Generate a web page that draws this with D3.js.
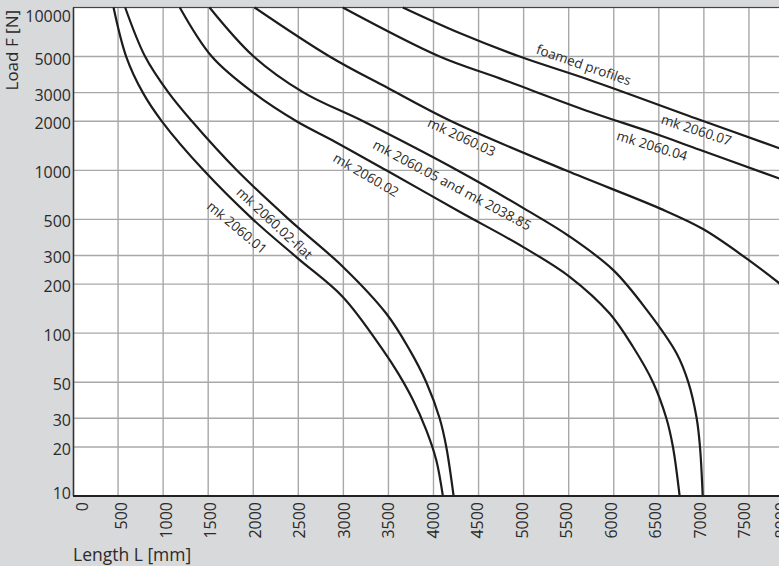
<!DOCTYPE html>
<html><head><meta charset="utf-8">
<script src="https://cdn.jsdelivr.net/npm/d3@7"></script>
<style>
html,body{margin:0;padding:0;background:#d8d9db;}
svg{display:block;}
text{font-family:"Open Sans",sans-serif;fill:#2a2a2a;}
</style></head><body>
<svg id="chart" width="779" height="566"></svg>
<script>
// ---- data ----
const xTickValues = [0,500,1000,1500,2000,2500,3000,3500,4000,4500,5000,5500,6000,6500,7000,7500,8000];
const yTickValues = [10,20,30,50,100,200,300,500,1000,2000,3000,5000,10000];
const xTitle = "Length L [mm]";
const yTitle = "Load F [N]";

// [length mm, load N]
const mk206001 = [[450,10000],[590,5000],[775,3000],[986,2000],[1450,1000],[1996,500],[2495,288],[2994,167],[3438,79],[3605,57],[3771,39],[3920,25.4],[4031,16.6],[4104,10]];
const mk206002flat = [[579,10000],[800,5000],[1060,3000],[1320,2000],[1818,1000],[2395,500],[2994,256],[3476,132],[3735,79],[3920,50],[4068,30],[4142,20],[4223,10]];
const mk206002 = [[1185,10000],[1540,5000],[2000,3000],[2480,2000],[2906,1500],[3476,1000],[4290,557],[4992,339],[5511,222],[5955,132],[6213,82.5],[6435,50],[6584,30],[6657,20],[6731,10]];
const mk206005 = [[1515,10000],[2005,5000],[2560,3000],[3220,2000],[4294,980],[5034,570],[5514,391],[5995,244],[6366,139],[6698,75],[6827,50],[6920,30],[6957,20],[6987,10]];
const mk206003 = [[2014,10000],[2847,5000],[3494,3200],[4198,2000],[5466,1000],[6509,584],[6990,436],[7472,288],[7850,200]];
const mk206004 = [[2994,10000],[4068,5000],[4734,3672],[5733,2291],[6399,1724],[6953,1338],[7850,885]];
const mk206007 = [[3660,10000],[4289,6967],[4956,5000],[5733,3591],[6953,2046],[7850,1360]];
const seriesList = [mk206001, mk206002flat, mk206002, mk206005, mk206003, mk206004, mk206007];

// curve labels: text, anchor (length, load), angle
const labelTexts = ["foamed profiles","mk 2060.07","mk 2060.04","mk 2060.03","mk 2060.05 and mk 2038.85","mk 2060.02","mk 2060.02-flat","mk 2060.01"];
const labelAt = [[5666,4437],[6917,1768],[6426,1414],[4312,1601],[4206,812],[3252,936],[2236,473],[1820,445]];
const labelAngles = [19,18,17,25,28,30,43,40];

// ---- layout ----
const W = 779, H = 566;
const plotTop = 7.5, plotBottom = 496;
const x = d3.scaleLinear().domain([0,8000]).range([73, 794.0]);
const y = d3.scaleLog().domain([10,10000]).range([plotBottom, plotTop]);
const xLabelPos = d3.scaleLinear().domain([0,8000]).range([77, 789]);

const svg = d3.select("#chart");
svg.append("rect").attr("width",W).attr("height",H).attr("fill","#d8d9db");
svg.append("rect").attr("x",x(0)).attr("y",plotTop).attr("width",W-x(0)).attr("height",plotBottom-plotTop).attr("fill","#ffffff");

svg.append("clipPath").attr("id","plot").append("rect")
  .attr("x",x(0)).attr("y",plotTop-2).attr("width",W-x(0)).attr("height",plotBottom-plotTop+2);

// grid
const grid = svg.append("g");
grid.selectAll("line.v").data(xTickValues.filter(d=>d>0)).join("line").attr("class","v")
  .attr("x1",d=>x(d)).attr("x2",d=>x(d)).attr("y1",plotTop).attr("y2",plotBottom)
  .attr("stroke","#a8a8a8").attr("stroke-width",1.4);
grid.selectAll("line.h").data(yTickValues).join("line").attr("class","h")
  .attr("x1",x(0)).attr("x2",W).attr("y1",d=>y(d)).attr("y2",d=>y(d))
  .attr("stroke","#a8a8a8").attr("stroke-width",1.4);

// frame
svg.append("line").attr("x1",x(0)).attr("x2",W).attr("y1",plotTop).attr("y2",plotTop).attr("stroke","#444").attr("stroke-width",1.2);
svg.append("line").attr("x1",x(0)+0.5).attr("x2",x(0)+0.5).attr("y1",plotTop).attr("y2",plotBottom).attr("stroke","#333").attr("stroke-width",1.6);

// curves
const line = d3.line().x(d=>x(d[0])).y(d=>y(d[1])).curve(d3.curveCatmullRom.alpha(0.5));
svg.append("g").attr("clip-path","url(#plot)").selectAll("path").data(seriesList).join("path")
  .attr("d",line).attr("fill","none").attr("stroke","#1c1c1c").attr("stroke-width",2.2);

// bottom axis line
svg.append("line").attr("x1",x(0)).attr("x2",W).attr("y1",plotBottom).attr("y2",plotBottom).attr("stroke","#222").attr("stroke-width",2.2);

// curve labels
svg.append("g").selectAll("text").data(labelTexts).join("text")
  .attr("transform",(d,i)=>`translate(${x(labelAt[i][0])},${y(labelAt[i][1])}) rotate(${labelAngles[i]})`)
  .attr("text-anchor","middle").attr("dy","0.35em")
  .style("font-size","13.5px")
  .text(d=>d);

// y tick labels
svg.append("g").selectAll("text").data(yTickValues).join("text")
  .attr("x",71).attr("y",d=>Math.max(22, Math.min(499, y(d)+8)))
  .attr("text-anchor","end").style("font-size","16px")
  .text(d=>d);

// x tick labels (rotated; last one partly cut by the frame edge as in the original)
svg.append("g").selectAll("text").data(xTickValues).join("text")
  .attr("transform",d=>`translate(${Math.max(82, Math.min(781, xLabelPos(d)))+5.7},502) rotate(-90)`)
  .attr("text-anchor","end").style("font-size","16px")
  .text(d=>d);

// axis titles
svg.append("text").attr("x",73).attr("y",561).style("font-size","17.5px").text(xTitle);
svg.append("text").attr("transform","translate(18,10) rotate(-90)").attr("text-anchor","end").style("font-size","17px").text(yTitle);
</script>
</body></html>
